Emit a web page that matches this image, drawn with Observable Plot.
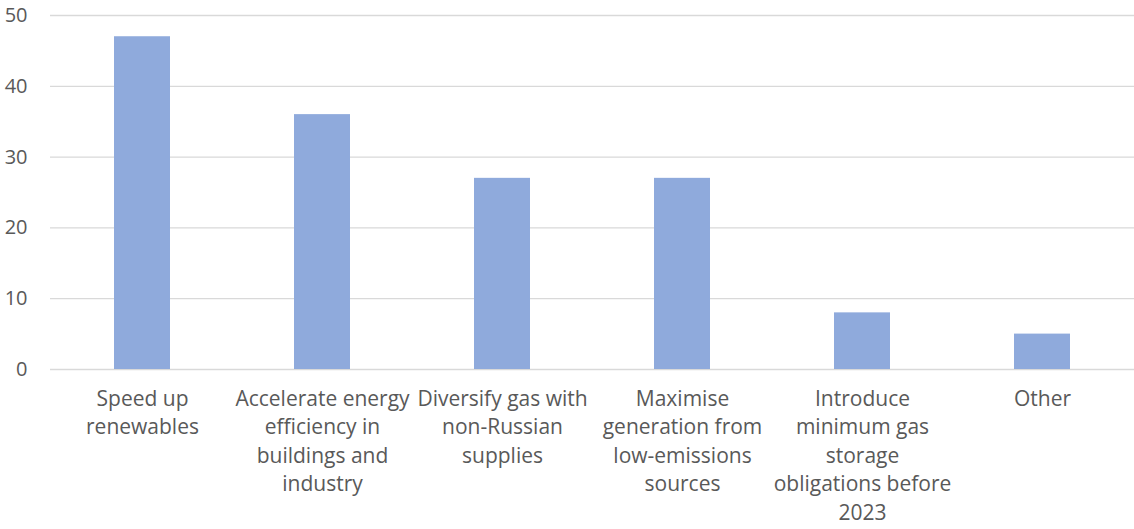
<!DOCTYPE html>
<html>
<head>
<meta charset="utf-8">
<script src="https://cdn.jsdelivr.net/npm/d3@7"></script>
<script src="https://cdn.jsdelivr.net/npm/@observablehq/plot@0.6"></script>
<style>
  html, body { margin: 0; padding: 0; background: #fff; }
  #chart svg { display: block; }
</style>
</head>
<body>
<div id="chart"></div>
<script>
// Policy priorities and the share of responses for each
const categories = [
  "Speed up\nrenewables",
  "Accelerate energy\nefficiency in\nbuildings and\nindustry",
  "Diversify gas with\nnon-Russian\nsupplies",
  "Maximise\ngeneration from\nlow-emissions\nsources",
  "Introduce\nminimum gas\nstorage\nobligations before\n2023",
  "Other"
];
const values = [47, 36, 27, 27, 8, 5];
const yTicks = [0, 10, 20, 30, 40, 50];

const data = categories.map((c, i) => ({ category: c, value: values[i] }));

const font = "'Open Sans', 'Segoe UI', sans-serif";

const chart = Plot.plot({
  width: 1134,
  height: 529,
  marginLeft: 50,
  marginRight: 0,
  marginTop: 15,
  marginBottom: 160,
  style: { fontFamily: font, fontSize: "21px", color: "#595959", background: "#fff" },
  x: { domain: categories, paddingInner: 0.69, paddingOuter: 0.345 },
  y: { domain: [0, 50], ticks: yTicks },
  marks: [
    Plot.gridY(yTicks, { stroke: "#d9d9d9", strokeOpacity: 1, strokeWidth: 1.3 }),
    Plot.barY(data, { x: "category", y: "value", fill: "#8faadc" }),
    Plot.axisY(yTicks, { tickSize: 0, tickPadding: 23, fill: "#595959", fontSize: 20, label: null }),
    Plot.axisX({ tickSize: 0, tickPadding: 16, fill: "#595959", fontSize: 21, lineHeight: 1.36, label: null })
  ]
});

document.getElementById("chart").appendChild(chart);
</script>
</body>
</html>
